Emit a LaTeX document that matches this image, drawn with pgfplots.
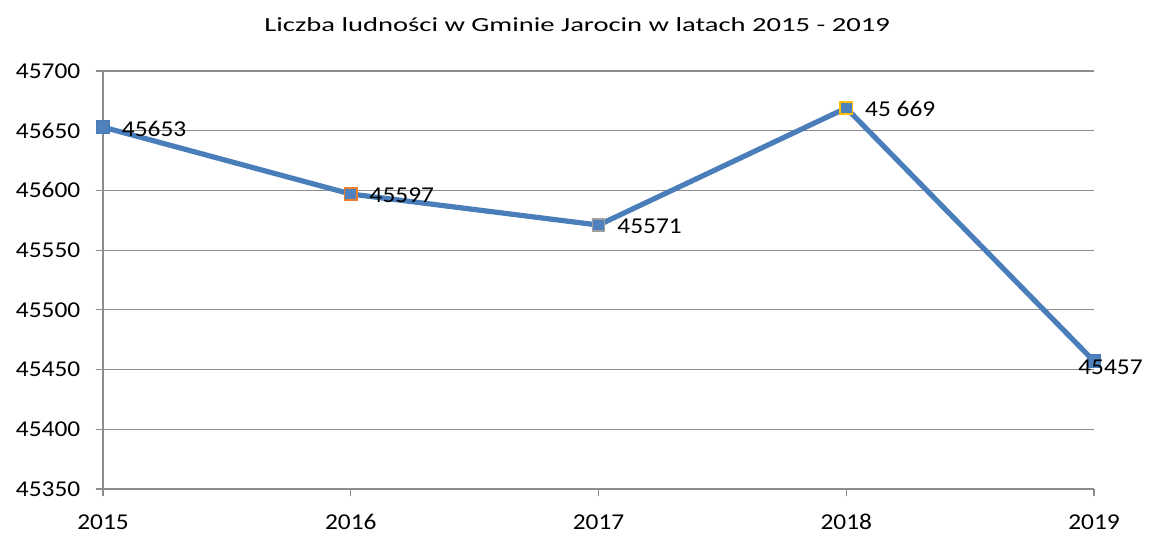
\documentclass[border=0pt]{standalone}
\usepackage{pgfplots}
\pgfplotsset{compat=1.18}
\usepackage{fontspec}
\setmainfont{Carlito}
\newfontfamily\tickfont[FakeStretch=1.12]{Carlito}
\newfontfamily\titlefont[FakeStretch=1.43]{Carlito}
\definecolor{lineblue}{HTML}{4A7EBB}
\definecolor{mfill}{HTML}{4F81BD}
\definecolor{gridgray}{HTML}{8C8C8C}
\definecolor{morange}{HTML}{F07F2D}
\definecolor{mgray}{HTML}{A0A0A0}
\definecolor{mgold}{HTML}{FFC000}
\begin{document}
\begin{tikzpicture}[x=1pt,y=1pt]
\begin{axis}[
  scale only axis,
  width=743.25pt, height=313.5pt,
  xmin=0, xmax=4, ymin=45350, ymax=45700,
  xtick={0,1,2,3,4},
  xticklabels={2015,2016,2017,2018,2019},
  ytick={45350,45400,45450,45500,45550,45600,45650,45700},
  axis x line*=bottom, axis y line*=left,
  axis line style={gridgray, line width=0.9pt, -},
  ymajorgrids, grid style={gridgray, line width=0.9pt},
  tick style={gridgray, line width=0.9pt},
  tick align=outside, major tick length=5.5pt,
  xtick pos=bottom, ytick pos=left,
  /pgf/number format/assume math mode=true,
  /pgf/number format/fixed,
  /pgf/number format/set thousands separator={},
  scaled y ticks=false,
  ticklabel style={font=\tickfont\fontsize{17}{20}\selectfont, text=black},
  xticklabel style={yshift=-10pt},
  yticklabel style={xshift=-8pt},
  title={\titlefont Liczba ludności w Gminie Jarocin w latach 2015 - 2019},
  title style={font=\fontsize{15}{18}\selectfont, yshift=20pt, xshift=-16pt},
  clip=false,
]
\addplot[lineblue, line width=3.9pt, line join=round, mark=none] coordinates {
  (0,45653) (1,45597) (2,45571) (3,45669) (4,45457)
};
% markers
\addplot[only marks, mark=square*, mark size=4.6pt, mark options={fill=mfill, draw=lineblue, line width=1.2pt}] coordinates {(0,45653) (4,45457)};
\addplot[only marks, mark=square*, mark size=4.6pt, mark options={fill=mfill, draw=morange, line width=1.2pt}] coordinates {(1,45597)};
\addplot[only marks, mark=square*, mark size=4.6pt, mark options={fill=mfill, draw=mgray, line width=1.2pt}] coordinates {(2,45571)};
\addplot[only marks, mark=square*, mark size=4.6pt, mark options={fill=mfill, draw=mgold, line width=1.2pt}] coordinates {(3,45669)};
% labels
\addplot[draw=none, mark=none, nodes near coords, point meta=explicit symbolic,
  nodes near coords style={anchor=west, inner sep=0pt, xshift=14pt, yshift=-1pt, font=\tickfont\fontsize{17}{20}\selectfont, text=black}]
  coordinates {(0,45653) [45653] (1,45597) [45597] (2,45571) [45571] (3,45669) [45 669]};
\addplot[draw=none, mark=none, nodes near coords, point meta=explicit symbolic,
  nodes near coords style={anchor=west, inner sep=0pt, xshift=-12pt, yshift=-4.5pt, font=\tickfont\fontsize{17}{20}\selectfont, text=black}]
  coordinates {(4,45457) [45457]};
\end{axis}
\path (current axis.south west) ++(-77.25pt,-33.75pt) coordinate (bl);
\path (current axis.north east) ++(41.25pt,53.25pt) coordinate (tr);
\path[use as bounding box] (bl) rectangle (tr);
\end{tikzpicture}
\end{document}
